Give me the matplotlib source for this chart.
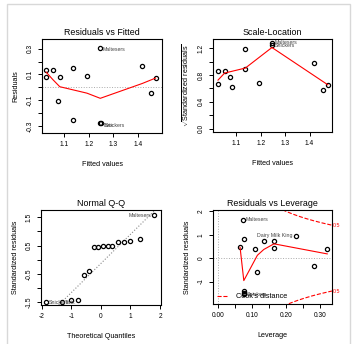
import numpy as np
import matplotlib
matplotlib.use('Agg')
import matplotlib.pyplot as plt
from matplotlib.lines import Line2D
from matplotlib.patches import Rectangle

plt.rcParams['font.family'] = ['Liberation Sans', 'DejaVu Sans']
plt.rcParams['mathtext.fontset'] = 'custom'
plt.rcParams['mathtext.rm'] = 'Liberation Sans'

# residuals vs fitted
fit_x = [1.028, 1.027, 1.055, 1.083, 1.077, 1.138, 1.138, 1.193, 1.247, 1.247, 1.248, 1.417, 1.451, 1.471]
fit_res = [0.131, 0.082, 0.134, 0.077, -0.102, 0.147, -0.253, 0.090, 0.303, -0.276, -0.280, 0.162, -0.047, 0.072]
fit_smooth_x = [1.028, 1.055, 1.083, 1.138, 1.193, 1.247, 1.417, 1.471]
fit_smooth_y = [0.118, 0.060, 0.005, -0.020, -0.045, -0.085, 0.030, 0.072]

# scale-location
sl_x = [1.025, 1.025, 1.052, 1.074, 1.081, 1.137, 1.137, 1.192, 1.246, 1.246, 1.418, 1.454, 1.475]
sl_y = [0.666, 0.854, 0.854, 0.770, 0.625, 1.193, 0.890, 0.685, 1.280, 1.248, 0.984, 0.576, 0.645]
sl_smooth_x = [1.025, 1.052, 1.137, 1.246, 1.475]
sl_smooth_y = [0.725, 0.830, 0.905, 1.212, 0.655]

# normal q-q
qq_theo = [-1.86, -1.31, -1.01, -0.77, -0.57, -0.39, -0.245, -0.08, 0.08, 0.235, 0.39, 0.58, 0.77, 1.0, 1.32, 1.81]
qq_std = [-1.50, -1.50, -1.434, -1.43, -0.527, -0.39, 0.449, 0.46, 0.48, 0.50, 0.50, 0.61, 0.61, 0.645, 0.735, 1.565]
qq_slope = 1.03
qq_icept = -0.135

# residuals vs leverage
lev_h = [0.074, 0.076, 0.065, 0.110, 0.136, 0.165, 0.165, 0.229, 0.116, 0.283, 0.322, 0.076, 0.076, 0.076]
lev_std = [1.63, 0.80, 0.47, 0.39, 0.72, 0.73, 0.44, 0.96, -0.59, -0.33, 0.40, -1.40, -1.48, -1.55]
lev_smooth_x = [0.065, 0.076, 0.116, 0.135, 0.165, 0.322]
lev_smooth_y = [0.46, -0.96, 0.12, 0.37, 0.61, 0.18]
cook_level = 0.5
n_par = 2

fig = plt.figure(figsize=(3.56, 3.44), dpi=100)
fig.patches.append(Rectangle((7/356, -0.1), 343/356, 1 - 4/344 + 0.1, transform=fig.transFigure,
                             fill=False, edgecolor='#d8d8d8', lw=1.0))

pt_kw = dict(ls='none', marker='o', mfc='none', mec='black', ms=3.0, mew=0.9)
lab_kw = dict(fontsize=3.8, color='#444444', textcoords='offset points', va='center')


def setup(ax, title, xlabel, ylabel, xt, xtl, yt, ytl):
    ax.set_title(title, fontsize=6.4, pad=3)
    ax.set_xlabel(xlabel, fontsize=5.2, labelpad=9)
    ax.set_ylabel(ylabel, fontsize=5.2, labelpad=5)
    ax.set_xticks(xt)
    ax.set_xticklabels(xtl, fontsize=4.8)
    ax.set_yticks(yt)
    ax.set_yticklabels(ytl, fontsize=4.8, rotation=90, va='center')
    ax.tick_params(length=2.9, width=0.7, pad=3)
    for s in ax.spines.values():
        s.set_linewidth(0.8)


# panel 1
ax1 = fig.add_axes([42/356, 1 - 133/344, 120/356, 94/344])
ax1.axhline(0, color='#aaaaaa', ls=':', lw=0.7)
ax1.plot(fit_x, fit_res, **pt_kw)
ax1.plot(fit_smooth_x, fit_smooth_y, color='red', lw=0.8)
ax1.annotate('Maltesers', (fit_x[8], fit_res[8]), xytext=(2, -1.2), **lab_kw)
ax1.annotate('Twix', (fit_x[9], fit_res[9]), xytext=(2, -1.5), **lab_kw)
ax1.annotate('Snickers', (fit_x[10], fit_res[10]), xytext=(2.8, -1.5), **lab_kw)
ax1.set_xlim(1.011, 1.497)
ax1.set_ylim(-0.354, 0.375)
setup(ax1, 'Residuals vs Fitted', 'Fitted values', 'Residuals',
      [1.1, 1.2, 1.3, 1.4], ['1.1', '1.2', '1.3', '1.4'],
      [-0.3, -0.2, -0.1, 0, 0.1, 0.2, 0.3], ['-0.3', '', '-0.1', '', '0.1', '', '0.3'])

# panel 2
ax2 = fig.add_axes([213/356, 1 - 132/344, 119/356, 93/344])
ax2.plot(sl_x, sl_y, **pt_kw)
ax2.plot(sl_smooth_x, sl_smooth_y, color='red', lw=0.8)
ax2.annotate('Maltesers', (sl_x[8], sl_y[8]), xytext=(2, 0.3), **lab_kw)
ax2.annotate('Snickers', (sl_x[9], sl_y[9]), xytext=(2, 0), **lab_kw)
ax2.set_xlim(1.0045, 1.492)
ax2.set_ylim(-0.05, 1.339)
setup(ax2, 'Scale-Location', 'Fitted values', r'$\sqrt{\mathrm{Standardized\ residuals}}$',
      [1.1, 1.2, 1.3, 1.4], ['1.1', '1.2', '1.3', '1.4'],
      [0, 0.2, 0.4, 0.6, 0.8, 1.0, 1.2], ['0.0', '', '0.4', '', '0.8', '', '1.2'])

# panel 3
ax3 = fig.add_axes([41/356, 1 - 305/344, 120/356, 95/344])
ax3.axline((0, qq_icept), slope=qq_slope, color='#888888', ls=':', lw=0.8)
ax3.plot(qq_theo, qq_std, **pt_kw)
ax3.annotate('Maltesers', (qq_theo[-1], qq_std[-1]), xytext=(-2, 0), ha='right', **lab_kw)
ax3.annotate('Snickers', (qq_theo[0], qq_std[0]), xytext=(2, 0), **lab_kw)
ax3.annotate('Twix', (qq_theo[1], qq_std[1]), xytext=(2, 0), **lab_kw)
ax3.set_xlim(-2.02, 2.03)
ax3.set_ylim(-1.60, 1.754)
setup(ax3, 'Normal Q-Q', 'Theoretical Quantiles', 'Standardized residuals',
      [-2, -1, 0, 1, 2], ['-2', '-1', '0', '1', '2'],
      [-1.5, -1, -0.5, 0, 0.5, 1, 1.5], ['-1.5', '', '-0.5', '', '0.5', '', '1.5'])

# panel 4
ax4 = fig.add_axes([213/356, 1 - 304/344, 119/356, 94/344])
ax4.axhline(0, color='#aaaaaa', ls=':', lw=0.7)
ax4.axvline(0, color='#aaaaaa', ls=':', lw=0.7)
xmax = 0.336
hh = np.linspace(0.01, xmax, 200)
cd = np.sqrt(cook_level * n_par * (1 - hh) / hh)
ax4.plot(hh, cd, color='red', ls='--', lw=0.8)
ax4.plot(hh, -cd, color='red', ls='--', lw=0.8)
ax4.plot(lev_h, lev_std, **pt_kw)
ax4.plot(lev_smooth_x, lev_smooth_y, color='red', lw=0.8)
ax4.annotate('Maltesers', (lev_h[0], lev_std[0]), xytext=(2, 0), **lab_kw)
ax4.annotate('Dairy Milk King', (lev_h[7], lev_std[7]), xytext=(-2, 0), ha='right', **lab_kw)
ax4.annotate('Snickers', (lev_h[-1], lev_std[-1]), xytext=(2, 0), **lab_kw)
ax4.text(1.01, cd[-1], str(cook_level), transform=ax4.get_yaxis_transform(),
         fontsize=3.8, color='red', va='center')
ax4.text(1.01, -cd[-1], str(cook_level), transform=ax4.get_yaxis_transform(),
         fontsize=3.8, color='red', va='center')
ax4.legend([Line2D([], [], color='red', ls='--', lw=0.8)], ["Cook's distance"],
           loc='lower left', frameon=False, fontsize=5.3, handlelength=1.6,
           handletextpad=1.0, borderaxespad=0.3, borderpad=0.2)
ax4.set_xlim(-0.0148, xmax)
ax4.set_ylim(-1.96, 2.055)
setup(ax4, 'Residuals vs Leverage', 'Leverage', 'Standardized residuals',
      [0, 0.05, 0.1, 0.15, 0.2, 0.25, 0.3], ['0.00', '', '0.10', '', '0.20', '', '0.30'],
      [-1, 0, 1, 2], ['-1', '0', '1', '2'])

fig.savefig('out.png', dpi=100)
